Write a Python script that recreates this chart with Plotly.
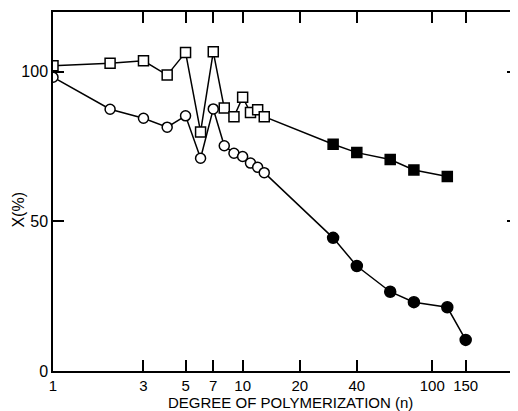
import plotly.graph_objects as go

# Data (degree of polymerization n, X in %)
sq_open_n = [1, 2, 3, 4, 5, 6, 7, 8, 9, 10, 11, 12, 13]
sq_open_y = [102.0, 102.9, 103.7, 98.9, 106.5, 79.9, 106.7, 87.9, 85.0, 91.5, 86.4, 87.3, 85.0]
sq_fill_n = [30, 40, 60, 80, 120]
sq_fill_y = [75.8, 73.0, 70.7, 67.2, 65.0]

ci_open_n = [1, 2, 3, 4, 5, 6, 7, 8, 9, 10, 11, 12, 13]
ci_open_y = [98.2, 87.5, 84.5, 81.5, 85.3, 71.1, 87.6, 75.3, 72.8, 71.7, 69.5, 68.1, 66.3]
ci_fill_n = [30, 40, 60, 80, 120, 150]
ci_fill_y = [44.5, 35.1, 26.5, 23.0, 21.3, 10.4]

x_tickvals = [1, 3, 5, 7, 10, 20, 40, 100, 150]
x_ticktext = ["1", "3", "5", "7", "10", "20", "40", "100", "150"]
y_tickvals = [0, 50, 100]
y_ticktext = ["0", "50", "100"]

FONT = "Liberation Sans"
LW = 1.5

fig = go.Figure()


def add_series(n_open, y_open, n_fill, y_fill, symbol, size_open, size_fill):
    xs = n_open + n_fill
    ys = y_open + y_fill
    colors = ["white"] * len(n_open) + ["black"] * len(n_fill)
    sizes = [size_open] * len(n_open) + [size_fill] * len(n_fill)
    fig.add_trace(go.Scatter(
        x=xs, y=ys, mode="lines+markers",
        line=dict(color="black", width=LW),
        marker=dict(symbol=symbol, size=sizes, color=colors, opacity=1,
                    line=dict(color="black", width=LW)),
        showlegend=False,
    ))


add_series(sq_open_n, sq_open_y, sq_fill_n, sq_fill_y, "square", 10, 10)
add_series(ci_open_n, ci_open_y, ci_fill_n, ci_fill_y, "circle", 10, 11)

# invisible helper trace for the mirrored (top / right) tick axes
fig.add_trace(go.Scatter(x=ci_fill_n, y=ci_fill_y, xaxis="x2", yaxis="y2",
                         mode="none", showlegend=False, hoverinfo="skip"))

xr = [0, 2.452]
yr = [0, 120]

# page has an 8px body margin, so the figure is sized 8px smaller
fig.update_layout(
    width=510, height=403,
    margin=dict(l=45, r=0, t=4, b=40, autoexpand=False),
    paper_bgcolor="white", plot_bgcolor="white",
    font=dict(family=FONT, color="black"),
    showlegend=False,
    xaxis=dict(
        type="log", range=xr, tickvals=x_tickvals, ticktext=x_ticktext,
        ticks="inside", ticklen=11, tickwidth=LW, tickcolor="black",
        showline=True, linewidth=LW, linecolor="black",
        showgrid=False, zeroline=False, automargin=False,
        tickfont=dict(size=15),
    ),
    xaxis2=dict(
        type="log", range=xr, overlaying="x", side="top", anchor="y2",
        tickvals=x_tickvals[1:], ticks="inside", ticklen=11, tickwidth=LW,
        tickcolor="black", showline=True, linewidth=LW, linecolor="black",
        showticklabels=False, showgrid=False, zeroline=False, automargin=False,
    ),
    yaxis=dict(
        range=yr, tickvals=y_tickvals, ticktext=y_ticktext,
        ticks="inside", ticklen=11, tickwidth=LW, tickcolor="black",
        showline=True, linewidth=LW, linecolor="black",
        showgrid=False, zeroline=False, automargin=False,
        tickfont=dict(size=16),
    ),
    yaxis2=dict(
        range=yr, overlaying="y", side="right", anchor="x2",
        tickvals=[50, 100], ticks="inside", ticklen=11, tickwidth=LW,
        tickcolor="black", showline=False,
        showticklabels=False, showgrid=False, zeroline=False, automargin=False,
    ),
    annotations=[
        dict(text="X(%)", textangle=-90, xref="paper", yref="y",
             x=-0.075, y=54, xanchor="center", yanchor="middle",
             showarrow=False, font=dict(size=16, family=FONT)),
        dict(text="DEGREE OF POLYMERIZATION (n)", xref="paper", yref="paper",
             x=0.51, y=-0.087, xanchor="center", yanchor="middle",
             showarrow=False, font=dict(size=15, family=FONT)),
    ],
)

fig.write_html("out.html")
